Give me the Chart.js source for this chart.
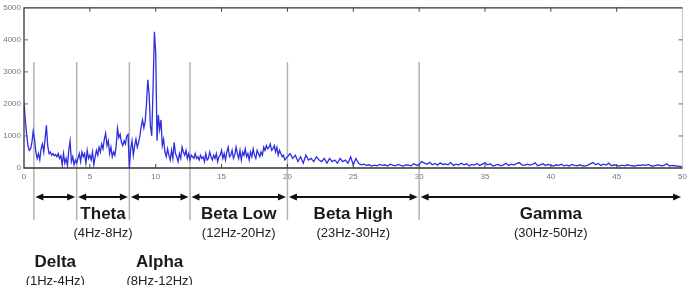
<!DOCTYPE html>
<html>
<head>
<meta charset="utf-8">
<script src="https://cdn.jsdelivr.net/npm/chart.js@4"></script>
<style>
  html, body { margin: 0; padding: 0; background: #fff; }
  #wrap { width: 691px; height: 285px; }
</style>
</head>
<body>
<div id="wrap"><canvas id="spectrumChart"></canvas></div>
<script>
// power spectrum, 0-20 Hz every 0.1 Hz
const lowStep = 0.1;
const lowPower = [
  2050, 1500, 1050, 700, 550, 600, 800, 1150, 900, 500,
  300, 450, 250, 600, 750, 500, 900, 1330, 700, 450,
  500, 400, 450, 380, 420, 350, 450, 300, 380, 100,
  450, 150, 300, 80, 550, 840, 200, 350, 100, 250,
  150, 300, 450, 200, 500, 350, 450, 150, 550, 300,
  400, 250, 500, 100, 350, 550, 400, 650, 500, 750,
  600, 900, 1080, 700, 850, 450, 650, 350, 500, 400,
  700, 1240, 950, 1050, 800, 700, 850, 750, 1000, 1050,
  0, 600, 850, 400, 700, 900, 650, 800, 1000, 1300,
  1500, 1250, 1450, 2000, 2750, 2300, 1300, 1000, 2500, 4250,
  3600, 850, 1650, 1200, 1500, 700, 900, 500, 350, 600,
  400, 250, 550, 300, 800, 450, 350, 200, 450, 300,
  650, 500, 400, 550, 300, 450, 250, 400, 350, 300,
  450, 300, 350, 250, 400, 300, 350, 200, 450, 250,
  300, 500, 350, 250, 400, 300, 450, 200, 350, 400,
  550, 300, 450, 250, 500, 650, 350, 400, 550, 300,
  400, 650, 450, 300, 550, 250, 500, 400, 600, 350,
  450, 250, 500, 350, 600, 400, 300, 550, 450, 350,
  500, 400, 650, 550, 700, 600, 650, 750, 550, 600,
  700, 500, 650, 400, 550, 450, 350, 400, 250, 300,
  350
];
// 20.2-50 Hz every 0.2 Hz
const highStart = 20.2;
const highStep = 0.2;
const highPower = [
  450, 300, 400, 200, 350,
  150, 400, 250, 300, 200,
  350, 250, 200, 300, 150,
  300, 200, 250, 150, 300,
  200, 250, 150, 350, 100,
  300, 150, 100, 120, 80,
  100, 60, 90, 70, 110,
  80, 100, 60, 120, 90,
  70, 110, 80, 60, 100,
  90, 70, 140, 80, 110,
  200, 150, 120, 180, 100,
  140, 90, 160, 110, 130,
  100, 170, 80, 120, 90,
  150, 100, 130, 70, 110,
  90, 140, 80, 120, 160,
  100, 130, 60, 90, 110,
  70, 100, 150, 80, 120,
  90, 140, 170, 100, 80,
  120, 90, 110, 160, 70,
  100, 130, 80, 110, 90,
  60, 100, 80, 120, 70,
  90, 60, 110, 80, 70,
  100, 70, 60, 90, 130,
  170, 100, 140, 80, 120,
  90, 150, 70, 100, 80,
  60, 90, 70, 100, 80,
  70, 60, 90, 80, 100,
  80, 110, 70, 60, 90,
  100, 70, 80, 130, 60,
  80, 70, 60, 50, 40
];

const xTicks = [0, 5, 10, 15, 20, 25, 30, 35, 40, 45, 50];
const yTicks = [0, 1000, 2000, 3000, 4000, 5000];

// band boundaries (Hz) and labels
const bandEdges = [0.75, 4, 8, 12.6, 20, 30, 50];
const bandNames = ['Delta', 'Theta', 'Alpha', 'Beta Low', 'Beta High', 'Gamma'];
const bandRanges = ['(1Hz-4Hz)', '(4Hz-8Hz)', '(8Hz-12Hz)', '(12Hz-20Hz)', '(23Hz-30Hz)', '(30Hz-50Hz)'];
const bandRow = [1, 0, 1, 0, 0, 0];

let points = [];
lowPower.forEach((v, i) => points.push({ x: +(i * lowStep).toFixed(2), y: v }));
highPower.forEach((v, i) => points.push({ x: +(highStart + i * highStep).toFixed(2), y: v }));

const bandPlugin = {
  id: 'bands',
  beforeDatasetsDraw(chart) {
    const ctx = chart.ctx;
    const xs = chart.scales.x;
    ctx.save();
    ctx.strokeStyle = '#b4b4b4';
    ctx.lineWidth = 1.5;
    bandEdges.slice(0, -1).forEach(e => {
      const px = xs.getPixelForValue(e);
      ctx.beginPath();
      ctx.moveTo(px, 62);
      ctx.lineTo(px, 220);
      ctx.stroke();
    });
    ctx.restore();
  },
  afterDraw(chart) {
    const ctx = chart.ctx;
    const xs = chart.scales.x;
    const ys = chart.scales.y;
    const a = chart.chartArea;
    ctx.save();

    // frame
    ctx.lineWidth = 1.3;
    ctx.strokeStyle = '#cfcfcf';
    ctx.beginPath(); ctx.moveTo(a.right, a.top); ctx.lineTo(a.right, a.bottom); ctx.stroke();
    ctx.strokeStyle = '#333';
    ctx.beginPath();
    ctx.moveTo(a.right, a.top); ctx.lineTo(a.left, a.top); ctx.lineTo(a.left, a.bottom); ctx.lineTo(a.right, a.bottom);
    ctx.stroke();

    // inner ticks
    ctx.lineWidth = 1;
    ctx.strokeStyle = '#444';
    xTicks.slice(1, -1).forEach(t => {
      const px = xs.getPixelForValue(t);
      ctx.beginPath(); ctx.moveTo(px, a.top); ctx.lineTo(px, a.top + 4); ctx.stroke();
      ctx.beginPath(); ctx.moveTo(px, a.bottom); ctx.lineTo(px, a.bottom - 4); ctx.stroke();
    });
    ctx.strokeStyle = '#666';
    yTicks.slice(1, -1).forEach(t => {
      const py = ys.getPixelForValue(t);
      ctx.beginPath(); ctx.moveTo(a.left, py); ctx.lineTo(a.left + 4, py); ctx.stroke();
      ctx.beginPath(); ctx.moveTo(a.right, py); ctx.lineTo(a.right - 4, py); ctx.stroke();
    });

    // arrows
    const ay = 197;
    ctx.strokeStyle = '#111';
    ctx.fillStyle = '#111';
    ctx.lineWidth = 2;
    for (let i = 0; i < bandEdges.length - 1; i++) {
      const x0 = xs.getPixelForValue(bandEdges[i]) + 1.5;
      const x1 = xs.getPixelForValue(bandEdges[i + 1]) - 1.5;
      ctx.beginPath(); ctx.moveTo(x0 + 5, ay); ctx.lineTo(x1 - 5, ay); ctx.stroke();
      ctx.beginPath(); ctx.moveTo(x0, ay); ctx.lineTo(x0 + 8, ay - 3.5); ctx.lineTo(x0 + 8, ay + 3.5); ctx.closePath(); ctx.fill();
      ctx.beginPath(); ctx.moveTo(x1, ay); ctx.lineTo(x1 - 8, ay - 3.5); ctx.lineTo(x1 - 8, ay + 3.5); ctx.closePath(); ctx.fill();
    }

    // labels
    ctx.textAlign = 'center';
    ctx.textBaseline = 'middle';
    for (let i = 0; i < bandNames.length; i++) {
      const cx = xs.getPixelForValue((bandEdges[i] + bandEdges[i + 1]) / 2);
      const base = bandRow[i] ? 262 : 214;
      ctx.fillStyle = '#1a1a1a';
      ctx.font = 'bold 17px "Liberation Sans", Arial, sans-serif';
      ctx.fillText(bandNames[i], cx, base);
      ctx.fillStyle = '#222';
      ctx.font = '13px "Liberation Sans", Arial, sans-serif';
      ctx.fillText(bandRanges[i], cx, base + 19);
    }
    ctx.restore();
  }
};

new Chart(document.getElementById('spectrumChart'), {
  type: 'line',
  data: {
    datasets: [{
      data: points,
      borderColor: 'rgb(45, 45, 225)',
      borderWidth: 1.3,
      pointRadius: 0,
      tension: 0,
      fill: false
    }]
  },
  options: {
    responsive: true,
    maintainAspectRatio: false,
    animation: false,
    layout: { padding: { top: 5, right: 5, left: 0, bottom: 0 } },
    plugins: { legend: { display: false }, tooltip: { enabled: false } },
    scales: {
      x: {
        type: 'linear',
        min: 0,
        max: 50,
        afterBuildTicks: s => { s.ticks = xTicks.map(v => ({ value: v })); },
        afterFit: s => { s.height = 117; },
        grid: { display: false, drawTicks: false },
        border: { display: false },
        ticks: { color: '#777', font: { size: 8, family: 'Arial' }, padding: 4, maxRotation: 0, callback: v => String(v) }
      },
      y: {
        min: 0,
        max: 5000,
        afterBuildTicks: s => { s.ticks = yTicks.map(v => ({ value: v })); },
        afterFit: s => { s.width = 24; },
        grid: { display: false, drawTicks: false },
        border: { display: false },
        ticks: { color: '#777', font: { size: 8, family: 'Arial' }, padding: 3, callback: v => String(v) }
      }
    }
  },
  plugins: [bandPlugin]
});
</script>
</body>
</html>
